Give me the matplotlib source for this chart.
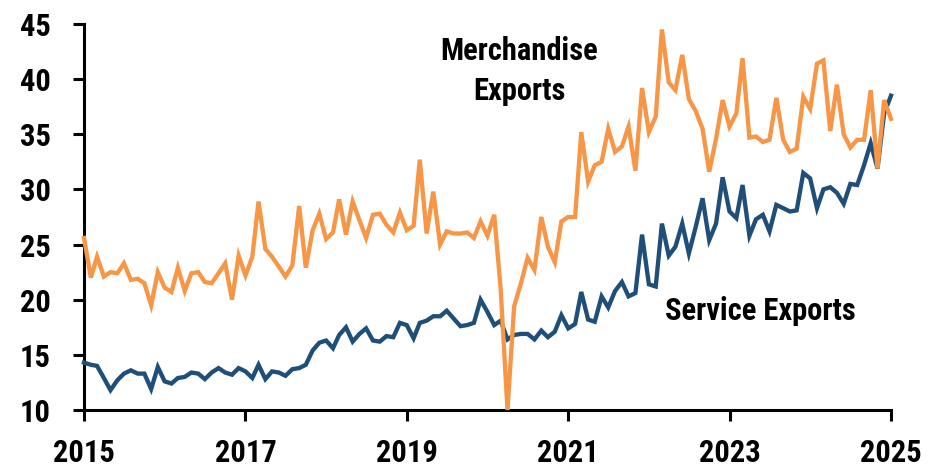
import matplotlib
matplotlib.use("Agg")
import matplotlib.pyplot as plt
import matplotlib.dates as mdates
from matplotlib import font_manager
import pandas as pd

# Monthly exports, Jan 2015 - Jan 2025 (USD bn)
months = pd.date_range("2015-01-01", periods=121, freq="MS")

merchandise = [
    25.6, 22.0, 23.9, 22.1, 22.5, 22.4, 23.3, 21.8, 21.9, 21.5, 19.5, 22.5,
    21.1, 20.7, 22.9, 20.8, 22.4, 22.5, 21.6, 21.5, 22.4, 23.3, 20.0, 24.0,
    22.2, 23.9, 28.9, 24.6, 23.9, 23.0, 22.1, 23.1, 28.5, 22.9, 26.3, 27.8,
    25.5, 26.1, 29.1, 25.9, 28.9, 27.2, 25.6, 27.7, 27.8, 26.8, 26.1, 27.9,
    26.3, 26.7, 32.7, 26.0, 29.8, 25.0, 26.2, 26.0, 26.0, 26.1, 25.6, 27.1,
    25.8, 27.7, 21.0, 10.0, 19.4, 21.5, 23.8, 22.7, 27.5, 24.8, 23.4, 27.1,
    27.5, 27.5, 35.2, 30.7, 32.2, 32.5, 35.5, 33.4, 33.9, 35.7, 31.7, 39.2,
    35.2, 36.6, 44.5, 39.7, 39.0, 42.2, 38.2, 37.1, 35.5, 31.6, 34.6, 38.1,
    35.7, 36.9, 41.9, 34.7, 34.8, 34.3, 34.5, 38.3, 34.5, 33.4, 33.7, 38.4,
    37.3, 41.4, 41.7, 35.3, 39.5, 35.0, 33.8, 34.5, 34.5, 39.0, 31.9, 38.1,
    36.4,
]

services = [
    14.3, 14.1, 14.0, 12.9, 11.8, 12.7, 13.3, 13.6, 13.3, 13.3, 11.9, 13.9,
    12.6, 12.4, 12.9, 13.0, 13.4, 13.3, 12.8, 13.4, 13.8, 13.4, 13.2, 13.8,
    13.5, 12.9, 14.1, 12.8, 13.5, 13.4, 13.1, 13.7, 13.8, 14.1, 15.4, 16.1,
    16.3, 15.6, 16.8, 17.5, 16.2, 16.9, 17.4, 16.3, 16.2, 16.7, 16.6, 17.9,
    17.7, 16.5, 17.9, 18.1, 18.5, 18.5, 19.0, 18.3, 17.6, 17.7, 17.9, 20.0,
    18.9, 17.7, 18.1, 16.4, 16.8, 16.9, 16.9, 16.4, 17.2, 16.6, 17.1, 18.6,
    17.4, 17.8, 20.7, 18.2, 18.0, 20.3, 19.3, 20.8, 21.6, 20.3, 20.6, 25.9,
    21.4, 21.2, 26.9, 24.0, 24.8, 26.9, 24.2, 26.6, 29.2, 25.4, 26.9, 31.1,
    28.0, 27.4, 30.4, 25.8, 27.3, 27.7, 26.2, 28.6, 28.3, 28.0, 28.1, 31.5,
    31.0, 28.3, 30.0, 30.2, 29.7, 28.7, 30.5, 30.4, 32.2, 34.2, 31.9, 36.9,
    38.5,
]

y_ticks = [10, 15, 20, 25, 30, 35, 40, 45]
x_tick_years = [2015, 2017, 2019, 2021, 2023, 2025]

MERCH_COLOR = "#f79646"
SERV_COLOR = "#1f4e79"

# Prefer a narrow bold sans face when one is installed
available = {f.name for f in font_manager.fontManager.ttflist}
family = "DejaVu Sans"
for cand in ["Liberation Sans Narrow", "Arial Narrow", "Roboto Condensed",
             "Roboto", "Liberation Sans"]:
    if cand in available:
        family = cand
        break
plt.rcParams["font.family"] = family
plt.rcParams["font.weight"] = "bold"

W, H = 937, 472
fig = plt.figure(figsize=(W / 100, H / 100), dpi=100)
ax = fig.add_axes([84 / W, 1 - 410 / H, (891 - 84) / W, (410 - 24) / H])

ax.plot(months, services, color=SERV_COLOR, lw=3.1, solid_joinstyle="miter",
        clip_on=False, zorder=3)
ax.plot(months, merchandise, color=MERCH_COLOR, lw=3.1, solid_joinstyle="miter",
        clip_on=False, zorder=3)

ax.set_ylim(10, 45)
ax.set_yticks(y_ticks)
ax.set_xlim(months[0], months[-1])
ax.set_xticks([pd.Timestamp(f"{y}-01-01") for y in x_tick_years])
ax.xaxis.set_major_formatter(mdates.DateFormatter("%Y"))

for side in ("top", "right"):
    ax.spines[side].set_visible(False)
for side in ("left", "bottom"):
    ax.spines[side].set_linewidth(2.2)
    ax.spines[side].set_color("black")

ax.tick_params(axis="both", direction="out", length=8, width=2.2,
               labelsize=22, colors="black")
ax.tick_params(axis="y", pad=16)
ax.tick_params(axis="x", pad=12)
for lbl in ax.get_xticklabels() + ax.get_yticklabels():
    lbl.set_fontweight("bold")

fig.text(519 / W, 1 - 71 / H, "Merchandise\nExports", fontsize=22,
         fontweight="bold", ha="center", va="center", linespacing=1.45)
fig.text(760 / W, 1 - 311 / H, "Service Exports", fontsize=22,
         fontweight="bold", ha="center", va="center")

fig.savefig("out.png", dpi=100)
